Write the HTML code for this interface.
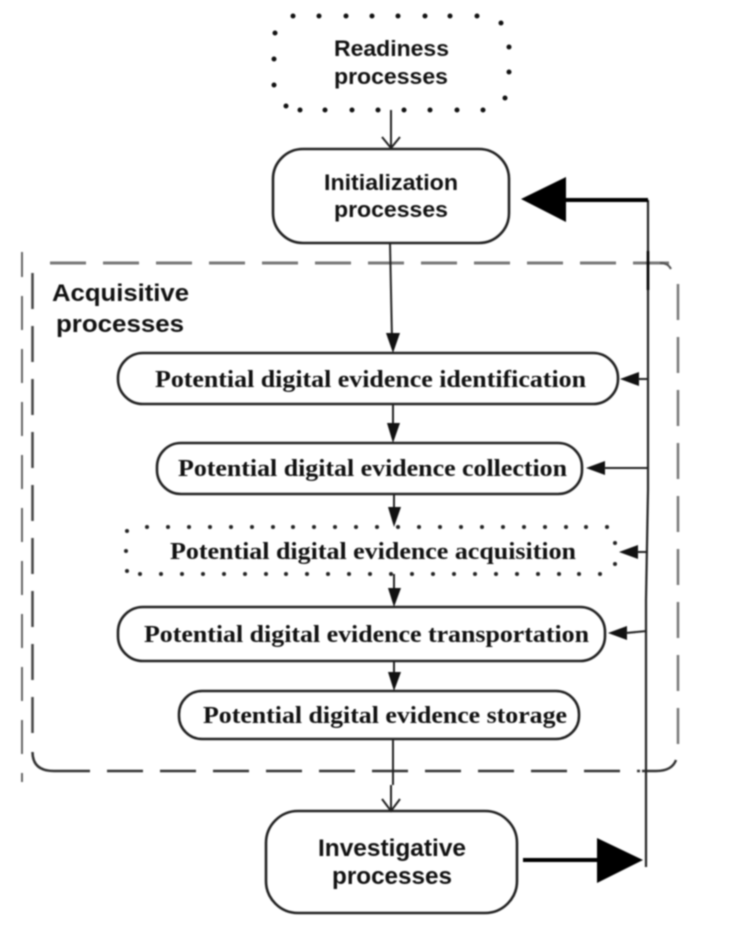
<!DOCTYPE html>
<html><head><meta charset="utf-8"><style>
html,body{margin:0;padding:0;background:#fff;width:738px;height:928px;overflow:hidden}
svg{display:block;filter:blur(0.7px)}
.s{font-family:"Liberation Sans",sans-serif;font-weight:bold;fill:#111;text-anchor:start}
.t{font-family:"Liberation Serif",serif;font-weight:bold;fill:#111;font-size:24px}
.n{fill:#fff;stroke:#222;stroke-width:2.6}
.l{fill:none;stroke:#222;stroke-width:2}
</style></head><body>
<svg width="738" height="928" viewBox="0 0 738 928" xmlns="http://www.w3.org/2000/svg">
<path d="M50 263 H670" fill="none" stroke="#777" stroke-width="3" stroke-dasharray="36 17"/>
<path d="M660 263 Q668 263 671 269" fill="none" stroke="#555" stroke-width="2"/>
<path d="M678 284 V750" fill="none" stroke="#777" stroke-width="2.500" stroke-dasharray="36 17"/>
<path d="M32.500 273 V735" fill="none" stroke="#444" stroke-width="2.500" stroke-dasharray="36 17"/>
<path d="M32.500 752 Q32.500 771 54 771 H90" fill="none" stroke="#333" stroke-width="2.500"/>
<path d="M107 771 H640" fill="none" stroke="#333" stroke-width="2.500" stroke-dasharray="36 17"/>
<path d="M642 771 H656 Q672 771 676 760" fill="none" stroke="#333" stroke-width="2.500"/>
<path d="M22 252 V782" fill="none" stroke="#555" stroke-width="1.800" stroke-dasharray="34 19" stroke-dashoffset="9"/>
<g fill="#111">
<circle cx="293" cy="16" r="2.500"/><circle cx="319" cy="16" r="2.500"/><circle cx="346" cy="16" r="2.500"/><circle cx="372" cy="16" r="2.500"/><circle cx="398" cy="16" r="2.500"/><circle cx="425" cy="16" r="2.500"/><circle cx="450" cy="16" r="2.500"/><circle cx="477" cy="16" r="2.500"/>
<circle cx="501" cy="23" r="2.500"/><circle cx="509" cy="47" r="2.500"/><circle cx="509" cy="72" r="2.500"/><circle cx="505" cy="98" r="2.500"/>
<circle cx="300" cy="110" r="2.500"/><circle cx="325" cy="110" r="2.500"/><circle cx="352" cy="110" r="2.500"/><circle cx="378" cy="110" r="2.500"/><circle cx="404" cy="110" r="2.500"/><circle cx="430" cy="110" r="2.500"/><circle cx="457" cy="110" r="2.500"/><circle cx="483" cy="110" r="2.500"/>
<circle cx="286" cy="106" r="2.500"/><circle cx="274" cy="85" r="2.500"/><circle cx="274" cy="59" r="2.500"/><circle cx="275" cy="33" r="2.500"/>
</g>
<g fill="#222">
<circle cx="147" cy="527" r="2"/><circle cx="168" cy="527" r="2"/><circle cx="189" cy="527" r="2"/><circle cx="210" cy="527" r="2"/><circle cx="231" cy="527" r="2"/><circle cx="252" cy="527" r="2"/><circle cx="273" cy="527" r="2"/><circle cx="293" cy="527" r="2"/><circle cx="314" cy="527" r="2"/><circle cx="335" cy="527" r="2"/><circle cx="356" cy="527" r="2"/><circle cx="377" cy="527" r="2"/><circle cx="398" cy="527" r="2"/><circle cx="419" cy="527" r="2"/><circle cx="440" cy="527" r="2"/><circle cx="461" cy="527" r="2"/><circle cx="482" cy="527" r="2"/><circle cx="503" cy="527" r="2"/><circle cx="524" cy="527" r="2"/><circle cx="545" cy="527" r="2"/><circle cx="566" cy="527" r="2"/><circle cx="586" cy="527" r="2"/><circle cx="607" cy="527" r="2"/>
<circle cx="140" cy="574" r="2"/><circle cx="161" cy="574" r="2"/><circle cx="182" cy="574" r="2"/><circle cx="203" cy="574" r="2"/><circle cx="224" cy="574" r="2"/><circle cx="245" cy="574" r="2"/><circle cx="266" cy="574" r="2"/><circle cx="286" cy="574" r="2"/><circle cx="307" cy="574" r="2"/><circle cx="328" cy="574" r="2"/><circle cx="349" cy="574" r="2"/><circle cx="370" cy="574" r="2"/><circle cx="391" cy="574" r="2"/><circle cx="412" cy="574" r="2"/><circle cx="433" cy="574" r="2"/><circle cx="454" cy="574" r="2"/><circle cx="475" cy="574" r="2"/><circle cx="496" cy="574" r="2"/><circle cx="517" cy="574" r="2"/><circle cx="538" cy="574" r="2"/><circle cx="559" cy="574" r="2"/><circle cx="579" cy="574" r="2"/><circle cx="600" cy="574" r="2"/>
<circle cx="127" cy="531" r="2"/><circle cx="126" cy="551" r="2"/><circle cx="127" cy="571" r="2"/><circle cx="615" cy="543" r="2"/><circle cx="615" cy="564" r="2"/>
</g>
<rect class="n" x="273" y="149" width="236" height="94" rx="30"/>
<rect class="n" x="118" y="353" width="500" height="51" rx="25"/>
<rect class="n" x="157" y="443" width="425" height="51" rx="24"/>
<rect class="n" x="118" y="607" width="487" height="54" rx="25"/>
<rect class="n" x="179" y="691" width="400" height="48" rx="23"/>
<rect class="n" x="266" y="811" width="251" height="102" rx="32"/>
<path class="l" d="M391 110 V147 M382 137 L391 148 L400 137"/>
<path class="l" d="M390 243 L392 340"/>
<path class="l" d="M393 404 V425 M394 494 V510 M394 574 V590 M394 661 V672"/>
<path class="l" d="M393 739 V785 M391 785 V810 M382 799 L391 811 L400 799"/>
<path d="M648 200 V490 L646 600 V867" fill="none" stroke="#222" stroke-width="2.200"/>
<path d="M648 251 V290" fill="none" stroke="#000" stroke-width="2.600"/>
<path d="M566 200 H648" fill="none" stroke="#000" stroke-width="4"/>
<path d="M521 199 L566 177 V222 Z" fill="#000"/>
<path d="M523 860 H600" fill="none" stroke="#000" stroke-width="4"/>
<path d="M597 838 L643 860 L597 883 Z" fill="#000"/>
<g fill="#111">
<path d="M386 333 H400 L393 353 Z"/>
<path d="M387 423 H400 L393 443 Z"/>
<path d="M388 507 H401 L394 527 Z"/>
<path d="M388 588 H401 L394 607 Z"/>
<path d="M388 672 H401 L394 691 Z"/>
<path d="M620 379 L639 372 V386 Z"/>
<path d="M586 468 L605 461 V475 Z"/>
<path d="M619 552 L638 545 V559 Z"/>
<path d="M608 633 L627 626 V640 Z"/>
</g>
<path class="l" d="M638 379 H648 M604 468 H648 M637 552 H648 M626 633 L647 631"/>
<text class="s" x="334" y="56" font-size="22" textLength="115" lengthAdjust="spacingAndGlyphs">Readiness</text>
<text class="s" x="334" y="84" font-size="22" textLength="114" lengthAdjust="spacingAndGlyphs">processes</text>
<text class="s" x="324" y="190" font-size="22" textLength="134" lengthAdjust="spacingAndGlyphs">Initialization</text>
<text class="s" x="334" y="217" font-size="22" textLength="114" lengthAdjust="spacingAndGlyphs">processes</text>
<text class="s" x="52" y="301" font-size="24" textLength="137" lengthAdjust="spacingAndGlyphs">Acquisitive</text>
<text class="s" x="56" y="332" font-size="24" textLength="128" lengthAdjust="spacingAndGlyphs">processes</text>
<text class="s" x="318" y="856" font-size="24" textLength="148" lengthAdjust="spacingAndGlyphs">Investigative</text>
<text class="s" x="332" y="884" font-size="24" textLength="120" lengthAdjust="spacingAndGlyphs">processes</text>
<text class="t" x="155" y="387" textLength="431" lengthAdjust="spacingAndGlyphs">Potential digital evidence identification</text>
<text class="t" x="178" y="476" textLength="389" lengthAdjust="spacingAndGlyphs">Potential digital evidence collection</text>
<text class="t" x="170" y="559" textLength="406" lengthAdjust="spacingAndGlyphs">Potential digital evidence acquisition</text>
<text class="t" x="144" y="642" textLength="445" lengthAdjust="spacingAndGlyphs">Potential digital evidence transportation</text>
<text class="t" x="203" y="723" textLength="364" lengthAdjust="spacingAndGlyphs">Potential digital evidence storage</text>
</svg>
</body></html>
